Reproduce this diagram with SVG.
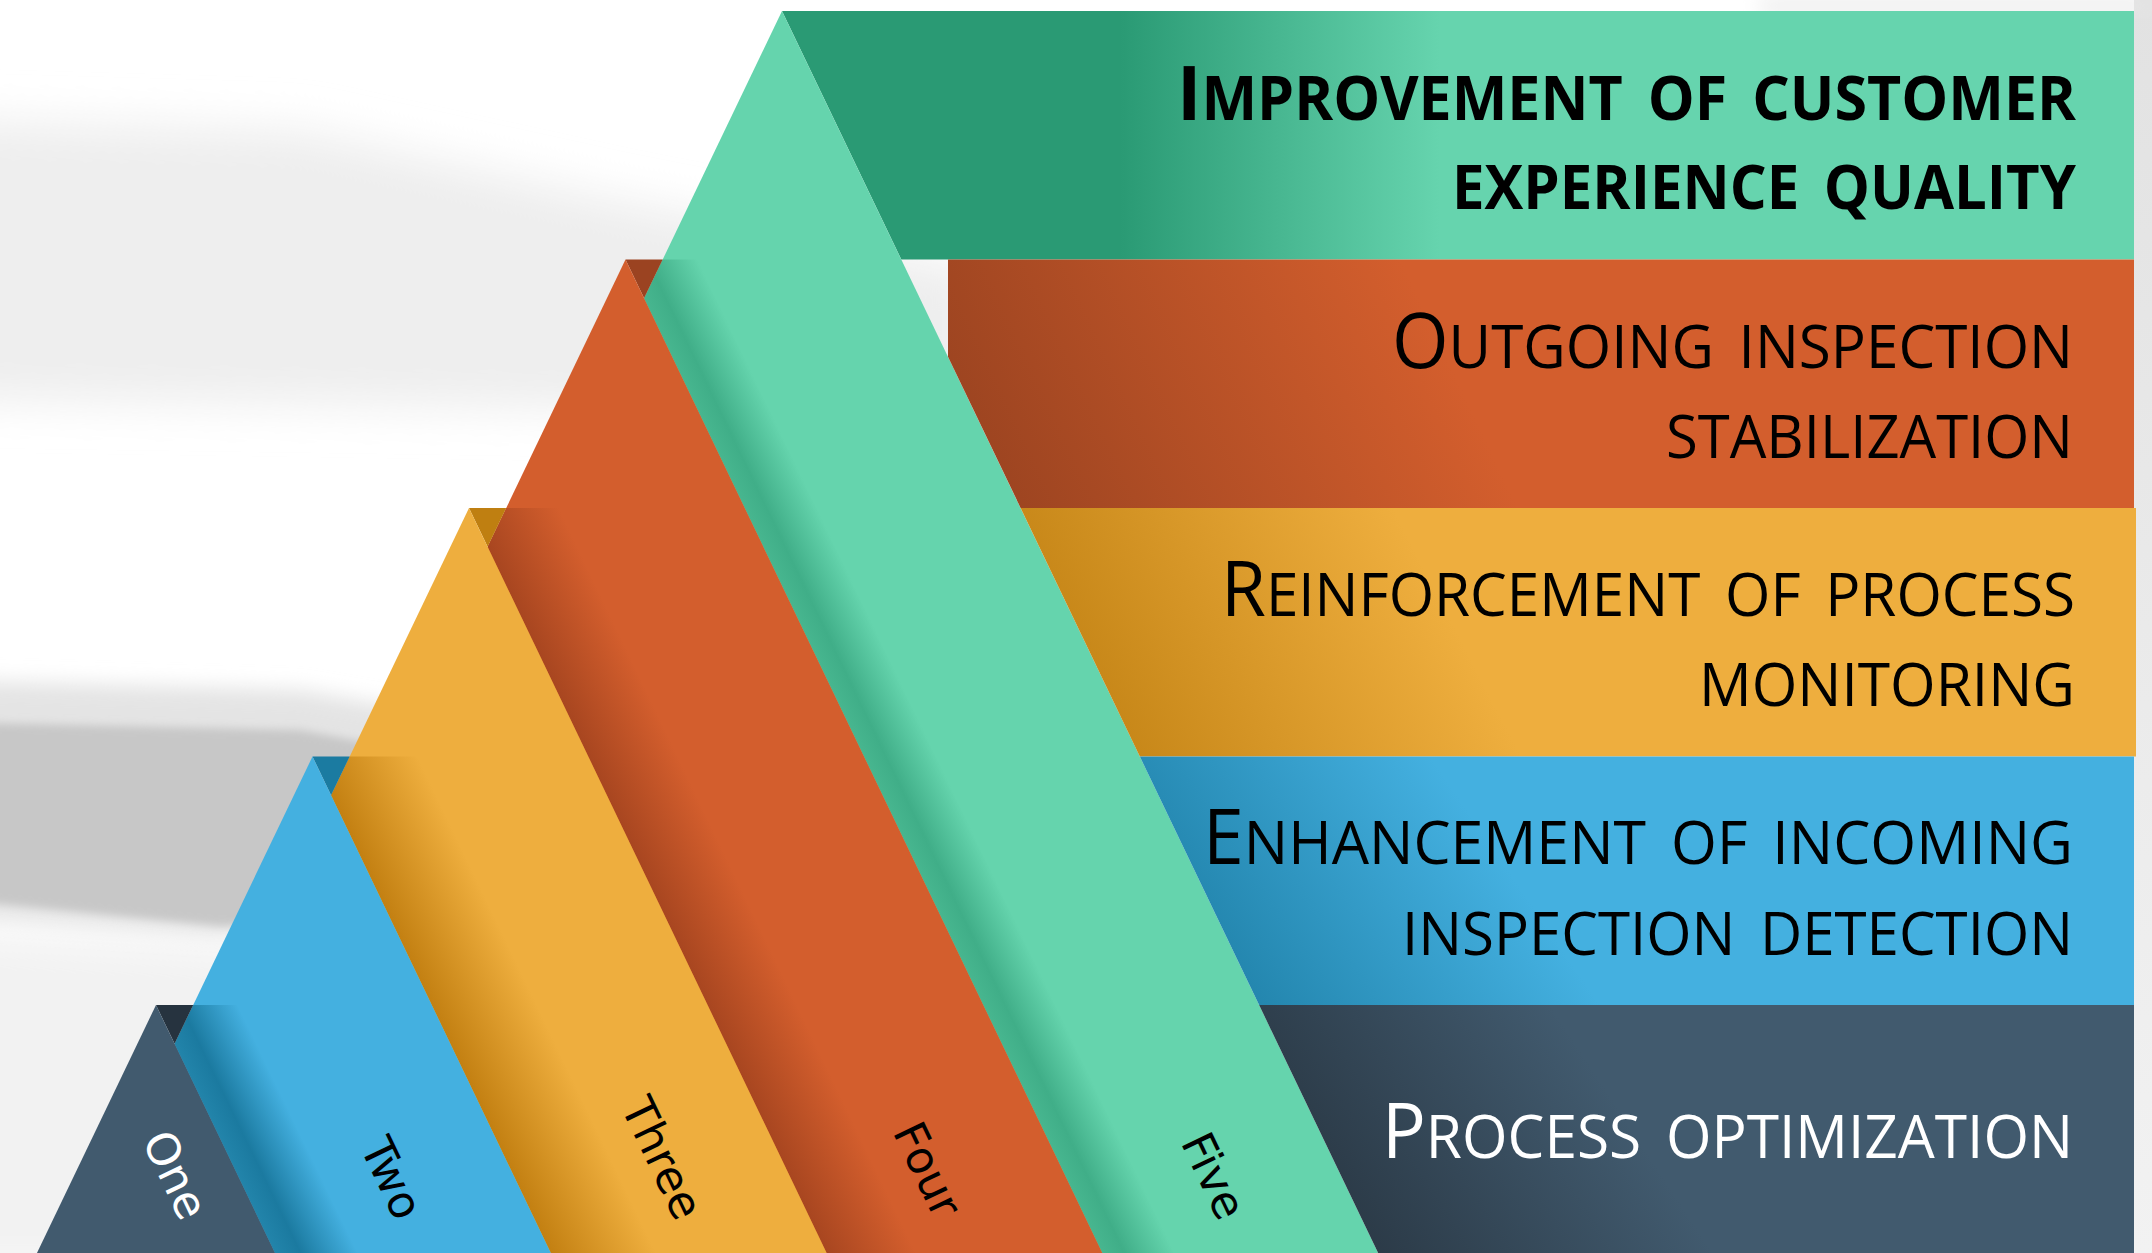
<svg xmlns="http://www.w3.org/2000/svg" width="2152" height="1253" viewBox="0 0 2152 1253">
<style>
.t{font-family:"Open Sans","Liberation Sans",sans-serif;font-size:61px;fill:#000;word-spacing:10px}
.b{font-weight:700}
.c{font-size:76px}
.lbl{font-family:"DejaVu Sans","Liberation Sans",sans-serif;font-size:45px;text-anchor:end;fill:#000}
.t.w,.lbl.w{fill:#fff}
</style>
<defs>
<filter id="blur" x="-50%" y="-50%" width="200%" height="200%"><feGaussianBlur stdDeviation="22"/></filter>
<filter id="blur2" x="-50%" y="-50%" width="200%" height="200%"><feGaussianBlur stdDeviation="10"/></filter>
<filter id="blur3" x="-50%" y="-50%" width="200%" height="200%"><feGaussianBlur stdDeviation="4"/></filter>
<linearGradient id="g5" gradientUnits="userSpaceOnUse" x1="1120" y1="0" x2="1440" y2="0"><stop offset="0" stop-color="#2A9A74"/><stop offset="1" stop-color="#66D4AE"/></linearGradient>
<linearGradient id="g4" gradientUnits="userSpaceOnUse" x1="980" y1="508" x2="1420" y2="300"><stop offset="0" stop-color="#9A4320"/><stop offset="1" stop-color="#D35E2D"/></linearGradient>
<linearGradient id="g3" gradientUnits="userSpaceOnUse" x1="1040" y1="756" x2="1420" y2="560"><stop offset="0" stop-color="#BE7E10"/><stop offset="1" stop-color="#EEAE3E"/></linearGradient>
<linearGradient id="g2" gradientUnits="userSpaceOnUse" x1="1160" y1="1005" x2="1460" y2="800"><stop offset="0" stop-color="#1A7AA0"/><stop offset="1" stop-color="#44B0E0"/></linearGradient>
<linearGradient id="g1" gradientUnits="userSpaceOnUse" x1="1270" y1="1253" x2="1580" y2="1050"><stop offset="0" stop-color="#25313C"/><stop offset="1" stop-color="#415A6E"/></linearGradient>
<linearGradient id="s5" gradientUnits="userSpaceOnUse" x1="625.5" y1="259.5" x2="684" y2="231.4"><stop offset="0" stop-color="#47B68F"/><stop offset="0.3" stop-color="#40AE88"/><stop offset="1" stop-color="#65D4AD"/></linearGradient>
<linearGradient id="s4" gradientUnits="userSpaceOnUse" x1="469" y1="508" x2="542" y2="473"><stop offset="0" stop-color="#A84620"/><stop offset="1" stop-color="#D35E2D"/></linearGradient>
<linearGradient id="s3" gradientUnits="userSpaceOnUse" x1="312.5" y1="756.5" x2="397.8" y2="715.5"><stop offset="0" stop-color="#C38012"/><stop offset="1" stop-color="#EEAE3E"/></linearGradient>
<linearGradient id="s2" gradientUnits="userSpaceOnUse" x1="156" y1="1005" x2="222" y2="973"><stop offset="0" stop-color="#2284AA"/><stop offset="0.3" stop-color="#1B7AA0"/><stop offset="1" stop-color="#44B0E0"/></linearGradient>
<linearGradient id="rs" x1="0" y1="0" x2="0" y2="1"><stop offset="0" stop-color="#e2e2e2"/><stop offset="1" stop-color="#f2f2f2"/></linearGradient>
<clipPath id="c5"><path d="M782,11 L1381.5,1260 L182.5,1260 Z"/></clipPath>
<clipPath id="c4"><path d="M625.5,259.5 L1105.7,1260 L145.3,1260 Z"/></clipPath>
<clipPath id="c3"><path d="M469,508 L830,1260 L108,1260 Z"/></clipPath>
<clipPath id="c2"><path d="M312.5,756.5 L554.2,1260 L70.8,1260 Z"/></clipPath>
</defs>

<g id="background">
<rect width="2152" height="1253" fill="#ffffff"/>
<path d="M-60,120 L300,130 L620,200 L980,270 L980,380 L620,410 L300,405 L-60,400 Z" fill="#eeeeee" filter="url(#blur)"/>
<path d="M-60,930 L330,950 L340,1270 L-60,1270 Z" fill="#f2f2f2" filter="url(#blur)"/>
<path d="M-60,680 L300,690 L470,720 L470,920 L220,935 L-60,915 Z" fill="#e4e4e4" filter="url(#blur2)"/>
<path d="M-60,722 L300,730 L460,760 L460,915 L220,926 L-60,898 Z" fill="#c7c7c7" filter="url(#blur3)"/>
<rect x="2134" y="0" width="18" height="1253" fill="url(#rs)"/>
<path d="M1760,0 H2152 V12 H1760 Z" fill="#e6e6e6" filter="url(#blur2)"/>
</g>

<g id="level-5">
<path d="M782,11 H2134 V259.5 H901.3 Z" fill="url(#g5)"/>
<path d="M782,11 L1381.5,1260 L182.5,1260 Z" fill="#65D4AD"/>
<path d="M625.5,259.5 L1105.7,1260 L1185.7,1260 L705.5,259.5 Z" fill="url(#s5)" clip-path="url(#c5)"/>
<text class="t b" x="1177" y="120" textLength="899" lengthAdjust="spacingAndGlyphs"><tspan class="c">I</tspan>MPROVEMENT OF CUSTOMER</text>
<text class="t b" x="1452" y="209" textLength="624" lengthAdjust="spacingAndGlyphs">EXPERIENCE QUALITY</text>
<text class="lbl" transform="translate(1219,1223) rotate(64.4)">Five</text>
</g>

<g id="level-4">
<path d="M948,259.5 H2134 V508 H1020.6 L948,356.8 Z" fill="url(#g4)"/>
<path d="M625.5,259.5 L662.7,259.5 L644.1,298.3 Z" fill="#9B4321"/>
<path d="M625.5,259.5 L1105.7,1260 L145.3,1260 Z" fill="#D35E2D"/>
<path d="M469,508 L830,1260 L930,1260 L569,508 Z" fill="url(#s4)" clip-path="url(#c4)"/>
<text class="t" x="1392" y="368" textLength="681" lengthAdjust="spacingAndGlyphs"><tspan class="c">O</tspan>UTGOING INSPECTION</text>
<text class="t" x="1666" y="458" textLength="407" lengthAdjust="spacingAndGlyphs">STABILIZATION</text>
<text class="lbl" transform="translate(935,1221) rotate(64.4)">Four</text>
</g>

<g id="level-3">
<path d="M1020.6,508 H2136 V756.5 H1139.8 Z" fill="url(#g3)"/>
<path d="M469,508 L506.2,508 L487.6,546.8 Z" fill="#BF7F11"/>
<path d="M469,508 L830,1260 L108,1260 Z" fill="#EEAE3E"/>
<path d="M312.5,756.5 L554.2,1260 L669.2,1260 L427.5,756.5 Z" fill="url(#s3)" clip-path="url(#c3)"/>
<text class="t" x="1221" y="616" textLength="854" lengthAdjust="spacingAndGlyphs"><tspan class="c">R</tspan>EINFORCEMENT OF PROCESS</text>
<text class="t" x="1699" y="706" textLength="376" lengthAdjust="spacingAndGlyphs">MONITORING</text>
<text class="lbl" transform="translate(676,1223) rotate(64.4)">Three</text>
</g>

<g id="level-2">
<path d="M1139.8,756.5 H2134 V1005 H1259.1 Z" fill="url(#g2)"/>
<path d="M312.5,756.5 L349.7,756.5 L331.1,795.3 Z" fill="#1B7BA1"/>
<path d="M312.5,756.5 L554.2,1260 L70.8,1260 Z" fill="#44B0E0"/>
<path d="M156,1005 L278.4,1260 L368.4,1260 L246,1005 Z" fill="url(#s2)" clip-path="url(#c2)"/>
<text class="t" x="1203" y="864" textLength="870" lengthAdjust="spacingAndGlyphs"><tspan class="c">E</tspan>NHANCEMENT OF INCOMING</text>
<text class="t" x="1402" y="955" textLength="671" lengthAdjust="spacingAndGlyphs">INSPECTION DETECTION</text>
<text class="lbl" transform="translate(396,1223) rotate(64.4)">Two</text>
</g>

<g id="level-1">
<path d="M1259.1,1005 H2134 V1260 H1381.5 Z" fill="url(#g1)"/>
<path d="M156,1005 L193.2,1005 L174.6,1043.8 Z" fill="#26333F"/>
<path d="M156,1005 L278.4,1260 L33.6,1260 Z" fill="#415A6E"/>
<text class="t w" x="1382" y="1158" textLength="691" lengthAdjust="spacingAndGlyphs"><tspan class="c">P</tspan>ROCESS OPTIMIZATION</text>
<text class="lbl w" transform="translate(181,1223) rotate(64.4)">One</text>
</g>

<g id="connectors"/>
</svg>
